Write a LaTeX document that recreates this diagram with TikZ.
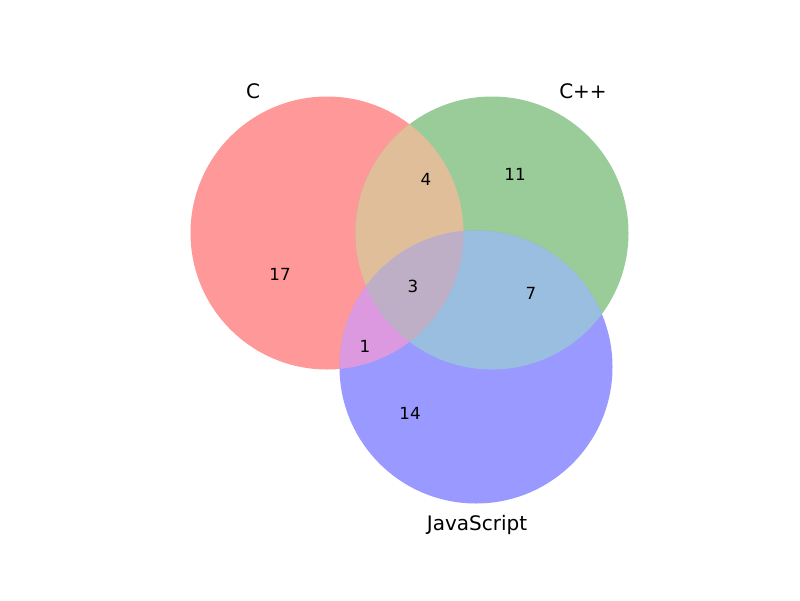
\documentclass[tikz,border=0pt]{standalone}
\usepackage{fontspec}
\setmainfont{DejaVu Sans}
\definecolor{cA}{RGB}{255,153,153}
\definecolor{cB}{RGB}{153,204,153}
\definecolor{cC}{RGB}{153,153,255}
\definecolor{cAB}{RGB}{223,190,153}
\definecolor{cAC}{RGB}{221,153,223}
\definecolor{cBC}{RGB}{154,190,224}
\definecolor{cABC}{RGB}{190,175,199}
\begin{document}
\begin{tikzpicture}[x=1pt,y=-1pt,
  setlabel/.style={font=\fontsize{20}{24}\selectfont,inner sep=0pt},
  numlabel/.style={font=\fontsize{16.7}{20}\selectfont,inner sep=0pt}]
\useasboundingbox (0,0) rectangle (800,600);
\def\circA{(327,233) circle[radius=136.5]}
\def\circB{(492,233) circle[radius=136.5]}
\def\circC{(476,367) circle[radius=136.5]}
\fill[cA] \circA;
\fill[cB] \circB;
\fill[cC] \circC;
\begin{scope}\clip \circA; \fill[cAB] \circB; \end{scope}
\begin{scope}\clip \circA; \fill[cAC] \circC; \end{scope}
\begin{scope}\clip \circB; \fill[cBC] \circC; \end{scope}
\begin{scope}\clip \circA; \clip \circB; \fill[cABC] \circC; \end{scope}
\node[setlabel] (lA) at (253,91) {C};
\node[setlabel] (lB) at (583,91) {C++};
\node[setlabel] (lC) at (477,525) {JavaScript};
\node[numlabel] (n100) at (280,274) {17};
\node[numlabel] (n010) at (515,174) {11};
\node[numlabel] (n110) at (426,179) {4};
\node[numlabel] (n111) at (413,286) {3};
\node[numlabel] (n011) at (531,293) {7};
\node[numlabel] (n101) at (365,346) {1};
\node[numlabel] (n001) at (410,413) {14};
\end{tikzpicture}
\end{document}
